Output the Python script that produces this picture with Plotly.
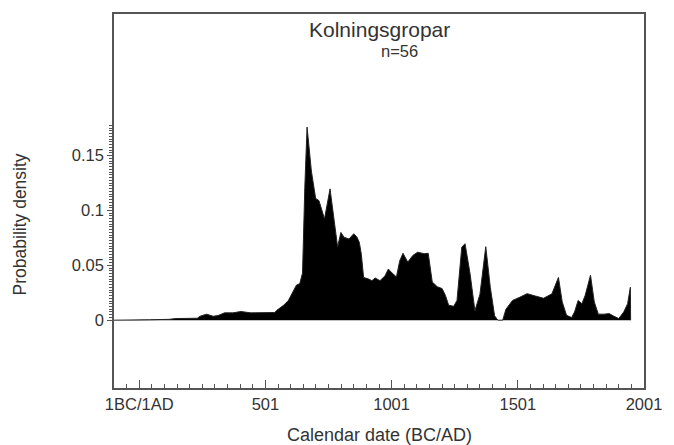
import plotly.graph_objects as go

years = [-100, 0, 40, 120, 145, 230, 241, 267, 293, 312, 338, 371, 403, 442, 470, 537,
         545, 572, 591, 611, 623, 636, 647, 656, 665, 682, 699, 712, 734, 756, 773,
         786, 799, 811, 831, 850, 862, 872, 880, 889, 909, 922, 935, 954, 974, 987,
         1002, 1019, 1032, 1045, 1064, 1084, 1103, 1129, 1145, 1161, 1181, 1200, 1213,
         1226, 1246, 1259, 1278, 1291, 1311, 1330, 1350, 1373, 1391, 1408, 1421, 1440,
         1453, 1479, 1505, 1537, 1570, 1602, 1635, 1661, 1676, 1693, 1713, 1725, 1739,
         1754, 1767, 1788, 1803, 1819, 1842, 1862, 1881, 1900, 1920, 1935, 1946, 1947]
density = [0, 0, 0.0004, 0.0008, 0.0015, 0.0018, 0.0036, 0.0055, 0.0036, 0.0042, 0.0067,
           0.0067, 0.0079, 0.0067, 0.0068, 0.007,
           0.009, 0.0136, 0.018, 0.027, 0.032, 0.0333, 0.043, 0.121, 0.176, 0.136, 0.111,
           0.109, 0.0924, 0.1197, 0.091,
           0.0667, 0.080, 0.0757, 0.074, 0.0788, 0.076, 0.071, 0.060, 0.039, 0.0375,
           0.036, 0.0385, 0.036, 0.0405, 0.0466,
           0.043, 0.0394, 0.054, 0.061, 0.053, 0.059, 0.062, 0.0606, 0.061, 0.0348,
           0.0305, 0.0288, 0.0227,
           0.0136, 0.0127, 0.018, 0.0666, 0.0697, 0.042, 0.0086, 0.0236, 0.067, 0.030,
           0.004, 0, 0,
           0.010, 0.018, 0.0206, 0.0242, 0.022, 0.020, 0.024, 0.039, 0.0167, 0.0045,
           0.0024, 0.0076, 0.018,
           0.015, 0.0227, 0.041, 0.0167, 0.0055, 0.0055, 0.006, 0.0036, 0.0015, 0.0076,
           0.015, 0.030, 0]

x_tick_vals = [0, 500, 1000, 1500, 2000]
x_tick_text = ["1BC/1AD", "501", "1001", "1501", "2001"]
x_minor_vals = list(range(-50, 2000, 50))
y_tick_vals = [0, 0.05, 0.1, 0.15]
y_tick_text = ["0", "0.05", "0.1", "0.15"]
y_minor_vals = [i * 0.0025 for i in range(0, 72)]

title_text = "Kolningsgropar"
subtitle_text = "n=56"
x_title = "Calendar date (BC/AD)"
y_title = "Probability density"

FONT = "Liberation Sans, Arial, sans-serif"
TXT = "#333333"
AX = "#555555"

fig = go.Figure()
fig.add_trace(go.Scatter(
    x=years, y=density, mode="lines", fill="tozeroy",
    fillcolor="black", line=dict(color="#222222", width=1),
    hoverinfo="skip", showlegend=False,
))

fig.update_layout(
    width=674, height=445,
    margin=dict(l=114, r=21, t=13, b=57),
    paper_bgcolor="white", plot_bgcolor="white",
    font=dict(family=FONT, size=16, color=TXT),
    showlegend=False,
    annotations=[
        dict(text=title_text, xref="paper", yref="y", x=0.5, y=0.2646,
             xanchor="center", yanchor="middle",
             showarrow=False, font=dict(size=21, color=TXT, family=FONT)),
        dict(text=subtitle_text, xref="paper", yref="y", x=0.539, y=0.2455,
             xanchor="center", yanchor="middle",
             showarrow=False, font=dict(size=16.5, color=TXT, family=FONT)),
        dict(text=x_title, xref="paper", yref="paper", x=0.5, y=0,
             yshift=-47, xanchor="center", yanchor="middle",
             showarrow=False, font=dict(size=18, color=TXT, family=FONT)),
        dict(text=y_title, xref="paper", yref="y", x=0, y=0.0873,
             xshift=-94, xanchor="center", yanchor="middle", textangle=-90,
             showarrow=False, font=dict(size=17.5, color=TXT, family=FONT)),
    ],
)

fig.update_xaxes(
    range=[-100, 2000], showgrid=False, zeroline=False,
    showline=True, linecolor=AX, linewidth=1.5, mirror=True,
    tickmode="array", tickvals=x_tick_vals, ticktext=x_tick_text,
    ticks="inside", ticklen=8, tickwidth=1, tickcolor=AX,
    minor=dict(tickmode="array", tickvals=x_minor_vals, ticks="inside",
               ticklen=4, tickwidth=1, tickcolor=AX, showgrid=False),
    tickfont=dict(size=16.5, color=TXT, family=FONT),
    ticklabeloverflow="allow",
)
fig.update_yaxes(
    range=[-0.0618, 0.2791], showgrid=False, zeroline=False,
    showline=True, linecolor=AX, linewidth=1.5, mirror=True,
    tickmode="array", tickvals=y_tick_vals, ticktext=y_tick_text,
    ticks="outside", ticklen=5, tickwidth=1, tickcolor=AX,
    minor=dict(tickmode="array", tickvals=y_minor_vals, ticks="outside",
               ticklen=3, tickwidth=1, tickcolor=AX, showgrid=False),
    tickfont=dict(size=16.5, color=TXT, family=FONT),
)

fig.write_html(
    "out.html",
    config={"displayModeBar": False},
    post_script="document.body.style.margin='0';document.body.style.overflow='hidden';",
)
